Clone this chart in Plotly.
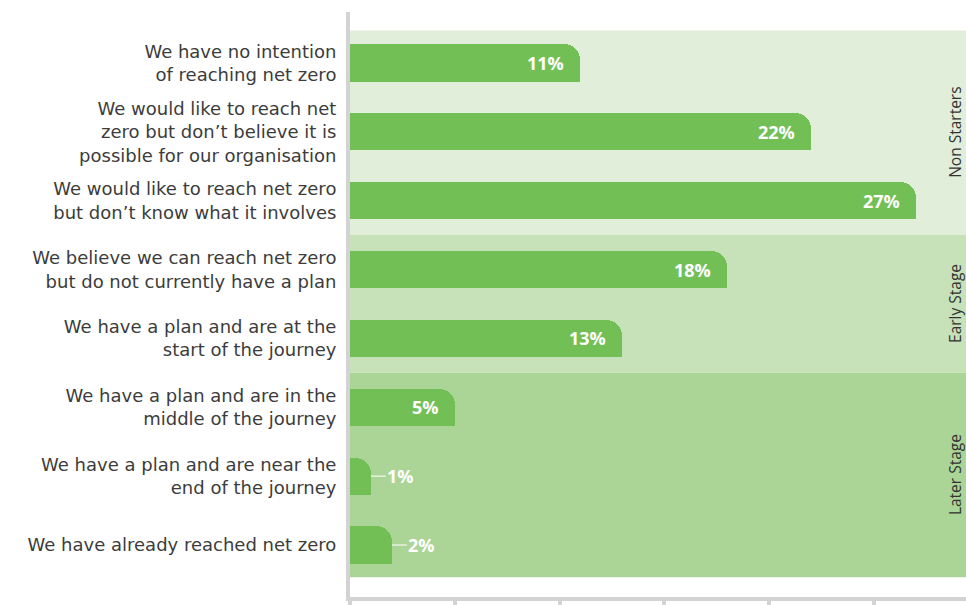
import plotly.graph_objects as go

# Survey responses: stage of the net zero journey
statements = [
    "We have no intention<br>of reaching net zero",
    "We would like to reach net<br>zero but don’t believe it is<br>possible for our organisation",
    "We would like to reach net zero<br>but don’t know what it involves",
    "We believe we can reach net zero<br>but do not currently have a plan",
    "We have a plan and are at the<br>start of the journey",
    "We have a plan and are in the<br>middle of the journey",
    "We have a plan and are near the<br>end of the journey",
    "We have already reached net zero",
]
shares = [11, 22, 27, 18, 13, 5, 1, 2]

# Stage groupings: (label, first row, last row)
stages = [("Non Starters", 0, 2), ("Early Stage", 3, 4), ("Later Stage", 5, 7)]
stage_colors = ["#e1efda", "#c7e2b9", "#abd596"]

BAR = "#72bf56"
AXIS = "#d3d3d6"
positions = list(range(len(shares)))
small_cutoff = 3  # values below this get an outside label with a leader line

fig = go.Figure()

# Main bars, rounded at the far end
fig.add_trace(go.Bar(
    y=positions, x=shares, orientation="h", width=0.54,
    marker=dict(color=BAR, cornerradius=16, line=dict(width=0)),
    hoverinfo="skip", showlegend=False,
))
# Square off the lower far corner of each bar
fig.add_trace(go.Bar(
    y=positions, x=shares, orientation="h", width=0.27, offset=0,
    marker=dict(color=BAR, line=dict(width=0)),
    hoverinfo="skip", showlegend=False,
))

shapes = []
annotations = []

# Background bands and rotated stage names
for (name, first, last), col in zip(stages, stage_colors):
    y0 = first - 0.47 if first == 0 else first - 0.5
    y1 = last + 0.47 if last == len(shares) - 1 else last + 0.5
    shapes.append(dict(type="rect", xref="paper", yref="y", x0=0, x1=1,
                       y0=y0, y1=y1, fillcolor=col, line=dict(width=0),
                       layer="below"))
    annotations.append(dict(xref="paper", yref="y", x=1, xshift=-11,
                            y=(y0 + y1) / 2, text=name, textangle=-90,
                            showarrow=False, xanchor="center", yanchor="middle",
                            font=dict(family="Open Sans", size=15.5, color="#333333")))

# Value labels
for p, v in zip(positions, shares):
    txt = f"{v}%"
    if v >= small_cutoff:
        annotations.append(dict(x=v, y=p, text=txt, showarrow=False,
                                xanchor="right", yanchor="middle", xshift=-14,
                                font=dict(family="Open Sans", size=18,
                                          color="white", weight="bold")))
    else:
        annotations.append(dict(x=v, y=p, text=txt, showarrow=True,
                                arrowhead=0, arrowwidth=1, arrowcolor="white",
                                ax=30, ay=0, standoff=0,
                                font=dict(family="Open Sans", size=18,
                                          color="white", weight="bold")))

fig.update_layout(
    width=966, height=605,
    margin=dict(l=350, r=0, t=12, b=8),
    paper_bgcolor="white", plot_bgcolor="white",
    barmode="overlay", bargap=0,
    shapes=shapes, annotations=annotations,
    xaxis=dict(range=[0, 29.4], tickvals=[0, 5, 10, 15, 20, 25],
               showticklabels=False, showgrid=False, zeroline=False,
               showline=True, linecolor=AXIS, linewidth=4,
               ticks="outside", ticklen=8, tickwidth=4, tickcolor=AXIS,
               fixedrange=True),
    yaxis=dict(range=[7.755, -0.74], tickvals=positions, ticktext=statements,
               showgrid=False, zeroline=False, showline=True,
               linecolor=AXIS, linewidth=4, ticks="", ticklabelstandoff=6,
               tickfont=dict(family="DejaVu Sans", size=18, color="#3c3c3c"),
               fixedrange=True),
    font=dict(family="Open Sans"),
)

fig.write_html("out.html")
